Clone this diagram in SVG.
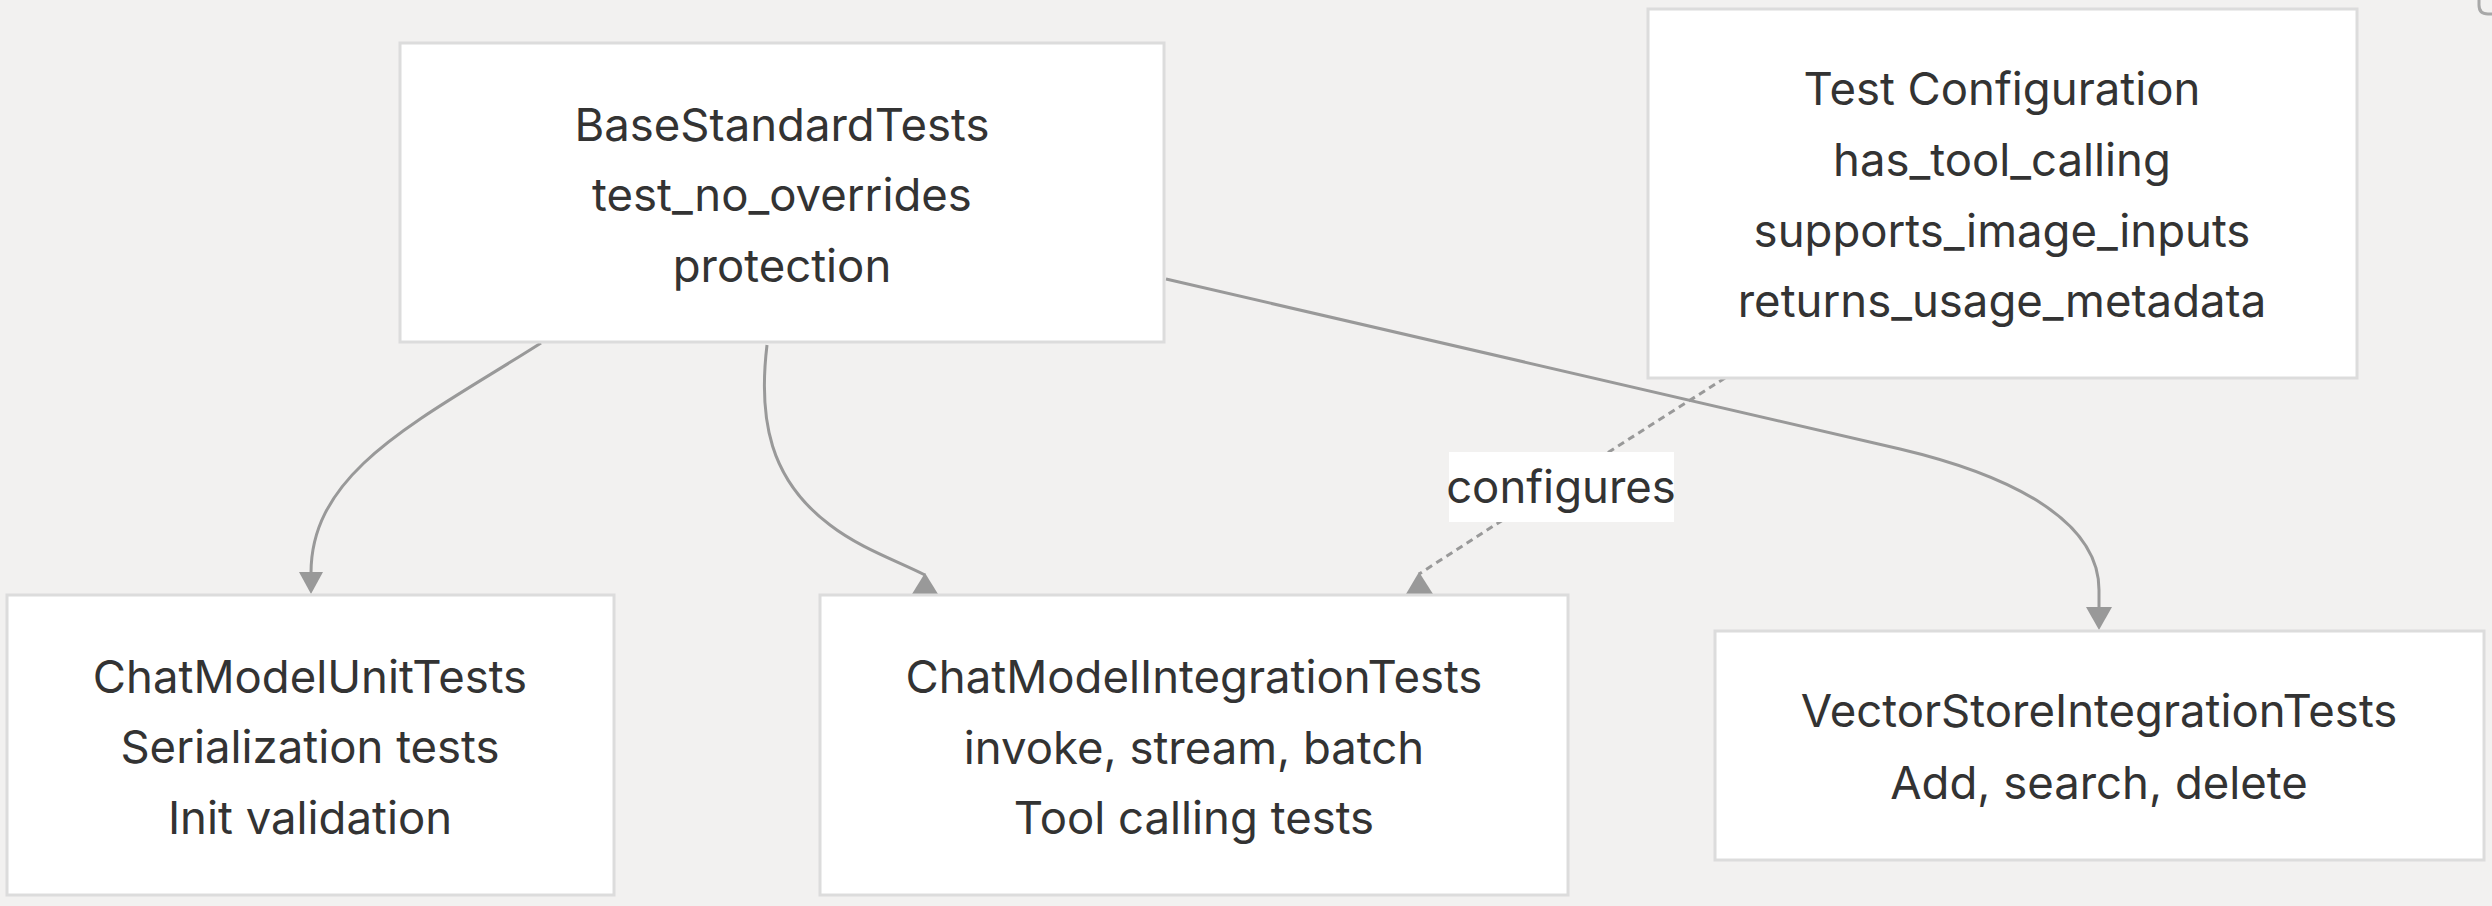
<svg xmlns="http://www.w3.org/2000/svg" width="2492" height="906" viewBox="0 0 2492 906">
<style>
.node rect{fill:#ffffff;stroke:#dcdcdc;stroke-width:3}
.node text,.lbl text{font-family:Inter,"Liberation Sans",Arial,sans-serif;font-size:45.5px;fill:#333333;text-anchor:middle}
.edge{fill:none;stroke:#999999;stroke-width:3}
.dash{stroke-dasharray:7 5}
.head{fill:#999999;stroke:none}
</style>
<rect x="0" y="0" width="2492" height="906" fill="#f2f1f0"/>
<path d="M2492,14 L2488,14 Q2479,14 2479,5 L2479,0" fill="none" stroke="#a8a8a8" stroke-width="3"/>
<g id="connectors">
  <path class="edge" d="M541,343 C420,420 311,470 311,573"/>
  <polygon class="head" points="299,572 323,572 311,594"/>
  <path class="edge" d="M767,345 C758,420 770,480 830,525 C860,548 895,560 925,575"/>
  <polygon class="head" points="925,573 912,594 938,594"/>
  <path class="edge" d="M1166,279 L1900,449 C2010,475 2099,520 2099,590 L2099,608"/>
  <polygon class="head" points="2086,607 2112,607 2099,630"/>
  <path class="edge dash" d="M1725,378 Q1580,470 1419,574"/>
  <polygon class="head" points="1419,572 1406,594 1433,594"/>
  <g class="lbl">
    <rect x="1449" y="452" width="225" height="70" fill="#ffffff"/>
    <text x="1561" y="503">configures</text>
  </g>
</g>
<g id="base" class="node">
  <rect x="400" y="43" width="764" height="299"/>
  <text x="782" y="141">BaseStandardTests</text>
  <text x="782" y="211">test_no_overrides</text>
  <text x="782" y="282">protection</text>
</g>
<g id="config" class="node">
  <rect x="1648" y="9" width="709" height="369"/>
  <text x="2002" y="105">Test Configuration</text>
  <text x="2002" y="176">has_tool_calling</text>
  <text x="2002" y="247">supports_image_inputs</text>
  <text x="2002" y="317">returns_usage_metadata</text>
</g>
<g id="unit" class="node">
  <rect x="7" y="595" width="607" height="300"/>
  <text x="310" y="693">ChatModelUnitTests</text>
  <text x="310" y="763">Serialization tests</text>
  <text x="310" y="834">Init validation</text>
</g>
<g id="integration" class="node">
  <rect x="820" y="595" width="748" height="300"/>
  <text x="1194" y="693">ChatModelIntegrationTests</text>
  <text x="1194" y="764">invoke, stream, batch</text>
  <text x="1194" y="834">Tool calling tests</text>
</g>
<g id="vector" class="node">
  <rect x="1715" y="631" width="769" height="229"/>
  <text x="2099" y="727">VectorStoreIntegrationTests</text>
  <text x="2099" y="799">Add, search, delete</text>
</g>
</svg>
